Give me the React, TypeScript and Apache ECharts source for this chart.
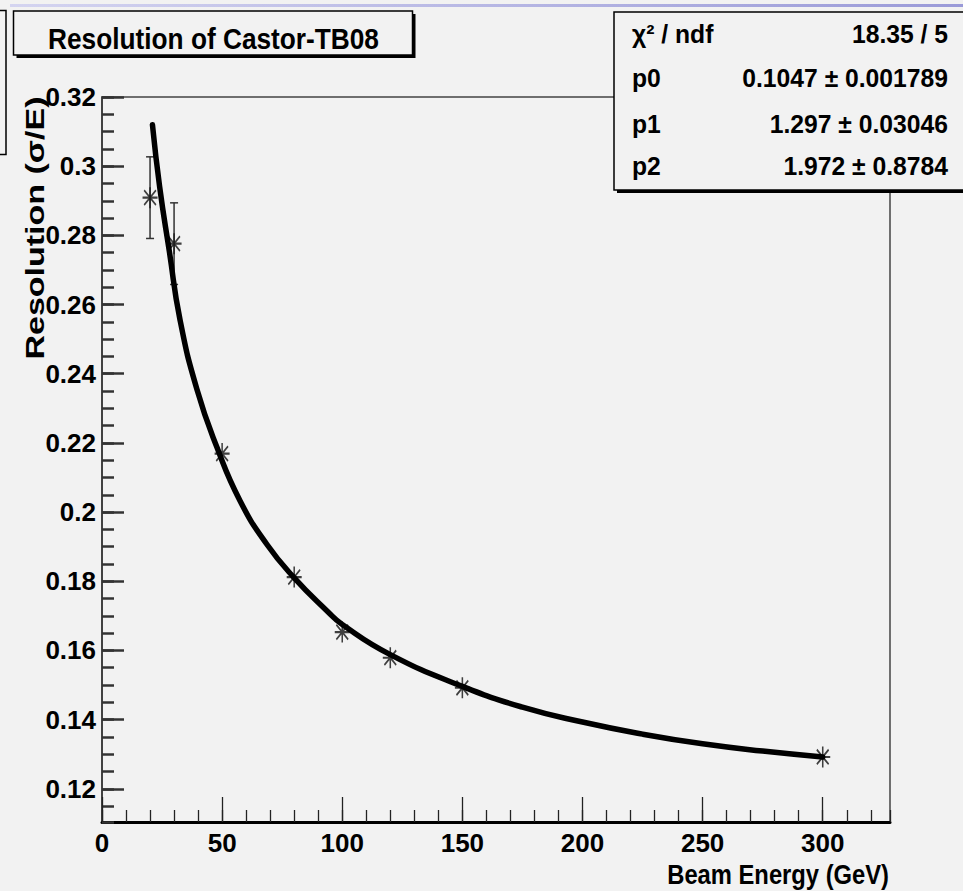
import React, { useEffect, useRef } from "react";
import * as echarts from "echarts";

// ---- data ----
const energies = [20, 30, 50, 80, 100, 120, 150, 300];
const resolutions = [0.2909, 0.2776, 0.2169, 0.1812, 0.1653, 0.1579, 0.1492, 0.1292];
const resolutionErrors = [0.0118, 0.0118, 0, 0, 0, 0, 0, 0];

const fitEnergies = [21, 24, 28, 32.5, 39.5, 47.8, 57.5, 68.6, 80, 94, 100, 120, 150, 175, 200, 225, 250, 275, 300];
const fitResolutions = [0.312, 0.294, 0.2755, 0.2555, 0.2355, 0.2188, 0.2032, 0.1907, 0.181, 0.1712, 0.1675, 0.1588, 0.1496, 0.1436, 0.1393, 0.1358, 0.133, 0.1309, 0.1292];

const titleText = "Resolution of Castor-TB08";
const xTitle = "Beam Energy (GeV)";
const yTitle = "Resolution (σ/E)";
const statLabels = ["χ² / ndf", "p0", "p1", "p2"];
const statValues = ["18.35 / 5", "0.1047 ± 0.001789", "1.297 ± 0.03046", "1.972 ± 0.8784"];

const X_MIN = 0;
const X_MAX = 328;
const Y_MIN = 0.1104;
const Y_MAX = 0.32;

const BG = "#f2f2f2";
const SANS = "'Liberation Sans', Arial, Helvetica, sans-serif";

const STAR = "path://M7 0L7 20M0 10L14 10M1.5 3L12.5 17M1.5 17L12.5 3";

function buildOption() {
  const points = energies.map((e, i) => [e, resolutions[i]]);
  const errData = energies.map((e, i) => [e, resolutions[i], resolutionErrors[i]]);
  const fitData = fitEnergies.map((e, i) => [e, fitResolutions[i]]);

  const statRowsY = [34, 78, 124, 166];
  const statTexts: any[] = [];
  statLabels.forEach((l, i) => {
    statTexts.push({
      type: "text",
      x: 632,
      y: statRowsY[i],
      z: 110,
      scaleX: 0.95,
      style: { text: l, fontSize: 26, fontWeight: "bold", fontFamily: SANS, fill: "#000", align: "left", verticalAlign: "middle" },
    });
    statTexts.push({
      type: "text",
      x: 948,
      y: statRowsY[i],
      z: 110,
      scaleX: 0.95,
      style: { text: statValues[i], fontSize: 26, fontWeight: "bold", fontFamily: SANS, fill: "#000", align: "right", verticalAlign: "middle" },
    });
  });

  return {
    animation: false,
    backgroundColor: BG,
    grid: {
      left: 102,
      top: 97,
      right: 73,
      bottom: 69,
      show: true,
      borderColor: "#444",
      borderWidth: 1.5,
      backgroundColor: "transparent",
    },
    xAxis: [
      {
        type: "value",
        min: X_MIN,
        max: X_MAX,
        interval: 10,
        position: "bottom",
        axisLine: { show: true, onZero: false, lineStyle: { color: "#000", width: 3 } },
        axisTick: { show: true, inside: true, length: 12, lineStyle: { color: "#222", width: 1.3 } },
        axisLabel: { show: false },
        splitLine: { show: false },
      },
      {
        type: "value",
        min: X_MIN,
        max: X_MAX,
        interval: 50,
        position: "bottom",
        axisLine: { show: false, onZero: false },
        axisTick: { show: true, inside: true, length: 25, lineStyle: { color: "#222", width: 1.3 } },
        axisLabel: {
          show: true,
          fontSize: 26,
          fontWeight: "bold",
          fontFamily: SANS,
          color: "#000",
          margin: 8,
          showMaxLabel: false,
        },
        splitLine: { show: false },
      },
    ],
    yAxis: [
      {
        type: "value",
        min: Y_MIN,
        max: Y_MAX,
        splitNumber: 10,
        minInterval: 0.02,
        maxInterval: 0.02,
        position: "left",
        axisLine: { show: true, onZero: false, lineStyle: { color: "#333", width: 1.5 } },
        axisTick: { show: true, inside: true, length: 22, lineStyle: { color: "#333", width: 2.5 } },
        axisLabel: {
          show: true,
          fontSize: 26,
          fontWeight: "bold",
          fontFamily: SANS,
          color: "#000",
          margin: 6,
          showMinLabel: false,
        },
        splitLine: { show: false },
      },
      {
        type: "value",
        min: Y_MIN,
        max: Y_MAX,
        splitNumber: 42,
        minInterval: 0.005,
        maxInterval: 0.005,
        position: "left",
        axisLine: { show: false, onZero: false },
        axisTick: { show: true, inside: true, length: 12, lineStyle: { color: "#333", width: 2.5 } },
        axisLabel: { show: false },
        splitLine: { show: false },
      },
    ],
    series: [
      {
        type: "custom",
        name: "errors",
        xAxisIndex: 0,
        yAxisIndex: 0,
        data: errData,
        renderItem: (params: any, api: any) => {
          const x = api.value(0);
          const y = api.value(1);
          const e = api.value(2);
          if (!e) return { type: "group", children: [] };
          const top = api.coord([x, y + e]);
          const bot = api.coord([x, y - e]);
          const cap = 4;
          const st = { stroke: "#333", lineWidth: 1.5 };
          return {
            type: "group",
            children: [
              { type: "line", shape: { x1: top[0], y1: top[1], x2: bot[0], y2: bot[1] }, style: st },
              { type: "line", shape: { x1: top[0] - cap, y1: top[1], x2: top[0] + cap, y2: top[1] }, style: st },
              { type: "line", shape: { x1: bot[0] - cap, y1: bot[1], x2: bot[0] + cap, y2: bot[1] }, style: st },
            ],
          };
        },
        z: 2,
      },
      {
        type: "scatter",
        name: "data",
        xAxisIndex: 0,
        yAxisIndex: 0,
        data: points,
        symbol: STAR,
        symbolSize: [15, 21],
        itemStyle: { color: "rgba(0,0,0,0)", borderColor: "#111", borderWidth: 1.8 },
        z: 3,
      },
      {
        type: "line",
        name: "fit",
        xAxisIndex: 0,
        yAxisIndex: 0,
        data: fitData,
        smooth: 0.5,
        showSymbol: false,
        symbol: "none",
        lineStyle: { color: "#000", width: 5.5, cap: "round" },
        z: 4,
      },
    ],
    graphic: [
      {
        type: "rect",
        z: 100,
        shape: { x: 10, y: 4, width: 960, height: 3 },
        style: {
          fill: new echarts.graphic.LinearGradient(0, 0, 1, 0, [
            { offset: 0, color: "#d4d4f0" },
            { offset: 1, color: "#9a9ad8" },
          ]),
        },
      },
      {
        type: "rect",
        z: 100,
        shape: { x: -10, y: 10.5, width: 16, height: 144 },
        style: { fill: BG, stroke: "#000", lineWidth: 1.5 },
      },
      // title box with shadow
      {
        type: "rect",
        z: 100,
        shape: { x: 16.5, y: 14, width: 399, height: 44 },
        style: { fill: "#000" },
      },
      {
        type: "rect",
        z: 101,
        shape: { x: 13.5, y: 11, width: 399, height: 44 },
        style: { fill: BG, stroke: "#000", lineWidth: 1.5 },
      },
      {
        type: "text",
        z: 102,
        x: 213.5,
        y: 38,
        scaleX: 0.875,
        style: {
          text: titleText,
          fontSize: 30,
          fontWeight: "bold",
          fontFamily: SANS,
          fill: "#000",
          align: "center",
          verticalAlign: "middle",
        },
      },
      // stats box with shadow
      {
        type: "rect",
        z: 100,
        shape: { x: 617, y: 15, width: 360, height: 178 },
        style: { fill: "#000" },
      },
      {
        type: "rect",
        z: 101,
        shape: { x: 614, y: 12, width: 360, height: 178 },
        style: { fill: BG, stroke: "#000", lineWidth: 1.5 },
      },
      ...statTexts,
      // axis titles
      {
        type: "text",
        z: 102,
        x: 35,
        y: 228,
        rotation: Math.PI / 2,
        scaleX: 1.36,
        style: {
          text: yTitle,
          fontSize: 25,
          fontWeight: "bold",
          fontFamily: SANS,
          fill: "#000",
          align: "center",
          verticalAlign: "middle",
        },
      },
      {
        type: "text",
        z: 102,
        x: 889,
        y: 874,
        scaleX: 0.88,
        style: {
          text: xTitle,
          fontSize: 27,
          fontWeight: "bold",
          fontFamily: SANS,
          fill: "#000",
          align: "right",
          verticalAlign: "middle",
        },
      },
    ],
  };
}

export default function App() {
  const ref = useRef<HTMLDivElement>(null);
  useEffect(() => {
    if (!ref.current) return;
    const chart = echarts.init(ref.current, undefined, { renderer: "svg" });
    chart.setOption(buildOption() as any);
    return () => chart.dispose();
  }, []);
  return (
    <div
      ref={ref}
      style={{ position: "absolute", left: 0, top: 0, width: 963, height: 891, background: BG }}
    />
  );
}
